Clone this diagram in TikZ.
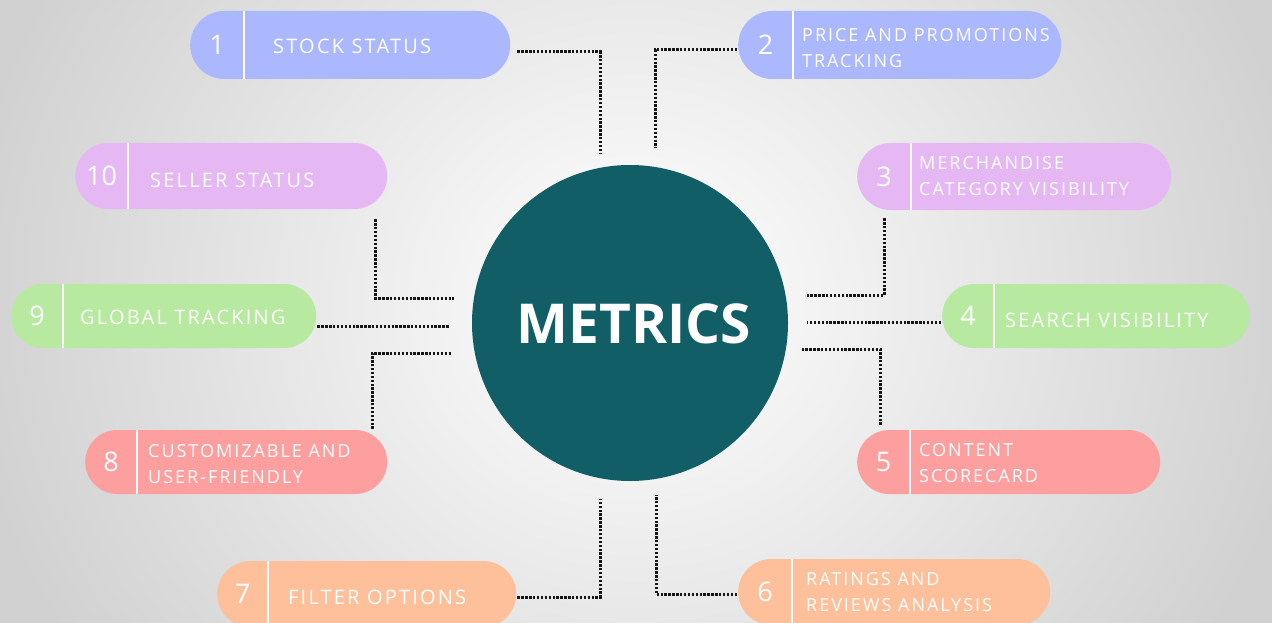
\documentclass[tikz,border=0pt]{standalone}
\usepackage{fontspec}
\setmainfont{Open Sans}
\newfontfamily\labelfont[LetterSpace=11]{Open Sans}
\newfontfamily\numfont{Open Sans}
\newfontfamily\titlefont{Open Sans}
\usetikzlibrary{shapes.misc}

\definecolor{pillblue}{HTML}{ABB8FD}
\definecolor{pillviolet}{HTML}{E5B8F4}
\definecolor{pillgreen}{HTML}{B7E9A0}
\definecolor{pillred}{HTML}{FE9F9F}
\definecolor{pillpeach}{HTML}{FDC09A}
\definecolor{hubteal}{HTML}{115E67}
\definecolor{dotink}{HTML}{161616}

\tikzset{
  pillshape/.style={rounded rectangle, draw=none, inner sep=0pt, anchor=west},
  divider/.style={white, line width=2.6pt},
  numtext/.style={text=white, inner sep=0pt, font=\numfont\fontsize{27}{30}\selectfont},
  labeltext/.style={text=white, inner sep=0pt, anchor=west, align=left,
    font=\labelfont\fontsize{20}{26}\selectfont},
  labeltwo/.style={labeltext, font=\labelfont\fontsize{18}{26}\selectfont},
  dotline/.style={draw=dotink, line width=3pt, dash pattern=on 2.4pt off 1.5pt},
}

% name, left, top, right, bottom, divider x, colour, number
\newcommand{\mkpill}[8]{%
  \node[pillshape, fill=#7, minimum width={#4-#2}, minimum height={#5-#3}] (#1) at (#2,{(#3+#5)/2}) {};
  \draw[divider] (#6,#3) -- (#6,#5);
  \node[numtext] (#1n) at ({(#2+#6)/2},{(#3+#5)/2}) {#8};
}

\begin{document}
\begin{tikzpicture}[x=1pt,y=-1pt]
  \useasboundingbox (0,0) rectangle (1272,623);
  % soft grey backdrop, lighter towards the middle
  \begin{scope}
    \clip (0,0) rectangle (1272,623);
    \shade[inner color=white, outer color=black!18] (-40,-330) rectangle (1312,930);
  \end{scope}

  % central hub
  \node[circle, fill=hubteal, minimum size=316pt, inner sep=0pt] (hub) at (630,323) {};
  \node[text=white, font=\titlefont\bfseries\fontsize{55}{55}\selectfont, inner sep=0pt] (hubt) at (634,324) {METRICS};

  % pills
  \mkpill{p1}{190}{11}{510}{79}{244}{pillblue}{1}
  \node[labeltext] (l1) at (273,46) {STOCK STATUS};
  \mkpill{p2}{738}{11}{1061}{79}{793}{pillblue}{2}
  \node[labeltwo] (l2) at (802,48) {PRICE AND PROMOTIONS\\TRACKING};
  \mkpill{p10}{75}{143}{387}{209}{128}{pillviolet}{10}
  \node[labeltext] (l10) at (150,180) {SELLER STATUS};
  \mkpill{p3}{857}{143}{1171}{210}{911}{pillviolet}{3}
  \node[labeltwo] (l3) at (919,176) {MERCHANDISE\\CATEGORY VISIBILITY};
  \mkpill{p9}{11}{284}{316}{348}{63}{pillgreen}{9}
  \node[labeltext] (l9) at (80,317) {GLOBAL TRACKING};
  \mkpill{p4}{942}{284}{1249}{348}{994}{pillgreen}{4}
  \node[labeltext] (l4) at (1005,320) {SEARCH VISIBILITY};
  \mkpill{p8}{85}{430}{387}{494}{137}{pillred}{8}
  \node[labeltwo] (l8) at (148,464) {CUSTOMIZABLE AND\\USER-FRIENDLY};
  \mkpill{p5}{857}{430}{1160}{494}{910}{pillred}{5}
  \node[labeltwo] (l5) at (919,463) {CONTENT\\SCORECARD};
  \mkpill{p7}{217}{561}{516}{627}{268}{pillpeach}{7}
  \node[labeltext] (l7) at (288,597) {FILTER OPTIONS};
  \mkpill{p6}{738}{559}{1050}{625}{792}{pillpeach}{6}
  \node[labeltwo] (l6) at (806,592) {RATINGS AND\\REVIEWS ANALYSIS};

  % hub-side ends of the dotted connectors
  \coordinate (k1) at (600,153);
  \coordinate (k2) at (655,148);
  \coordinate (k10) at (454,298);
  \coordinate (k9) at (449,326);
  \coordinate (k8) at (452,353);
  \coordinate (k3) at (805,295);
  \coordinate (k4) at (807,322);
  \coordinate (k5) at (802,349);
  \coordinate (k7) at (600,499);
  \coordinate (k6) at (656,495);

  % dotted connectors
  \draw[dotline] ([xshift=7pt,yshift=-7pt]p1.east) -| (k1);
  \draw[dotline] ([xshift=-1pt,yshift=-5pt]p2.west) -| (k2);
  \draw[dotline] ([xshift=144pt,yshift=-10pt]p10.south) |- (k10);
  \draw[dotline] ([xshift=1pt,yshift=-10pt]p9.east) -- (k9);
  \draw[dotline] ([xshift=136pt,yshift=1pt]p8.north) |- (k8);
  \draw[dotline] ([xshift=-130pt,yshift=-8pt]p3.south) |- (k3);
  \draw[dotline] ([xshift=-1pt,yshift=-6pt]p4.west) -- (k4);
  \draw[dotline] ([xshift=-128.5pt,yshift=5pt]p5.north) |- (k5);
  \draw[dotline] ([xshift=1pt,yshift=-3pt]p7.east) -| (k7);
  \draw[dotline] ([xshift=-1pt,yshift=-2pt]p6.west) -| (k6);
\end{tikzpicture}
\end{document}
